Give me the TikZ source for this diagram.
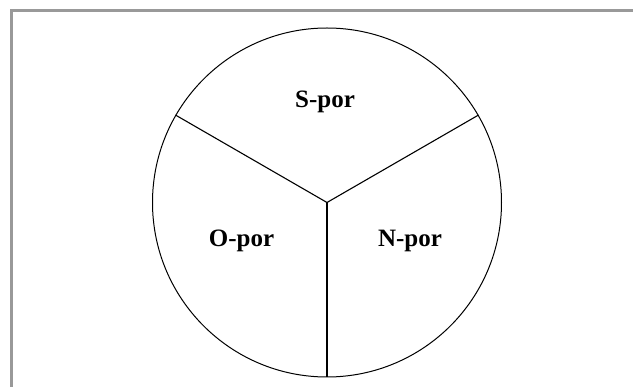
\documentclass[tikz,border=0pt]{standalone}
\usepackage{fontspec}
\setmainfont{Liberation Serif}
\begin{document}
\begin{tikzpicture}[x=1pt,y=-1pt,
  sector/.style={font=\fontsize{25}{28}\selectfont\bfseries, inner sep=0pt},
  divider/.style={draw=black, line width=1.1pt}]
\useasboundingbox (0,0) rectangle (633,387);
\clip (0,0) rectangle (633,387);
% outer frame
\draw[line width=3pt, draw=black!40] (11.5,10.5) rectangle (660,420);
% pie with three sectors
\node[circle, draw=black, line width=1pt, minimum size=349pt, inner sep=0pt] (pie) at (327,202.5) {};
\draw[divider] (pie.center) -- (pie.-90);
\draw[divider] (pie.center) -- (pie.150);
\draw[divider] (pie.center) -- (pie.30);
\node[sector] (s) at (325,102) {S-por};
\node[sector] (o) at (241.5,241) {O-por};
\node[sector] (n) at (410,241) {N-por};
\end{tikzpicture}
\end{document}
